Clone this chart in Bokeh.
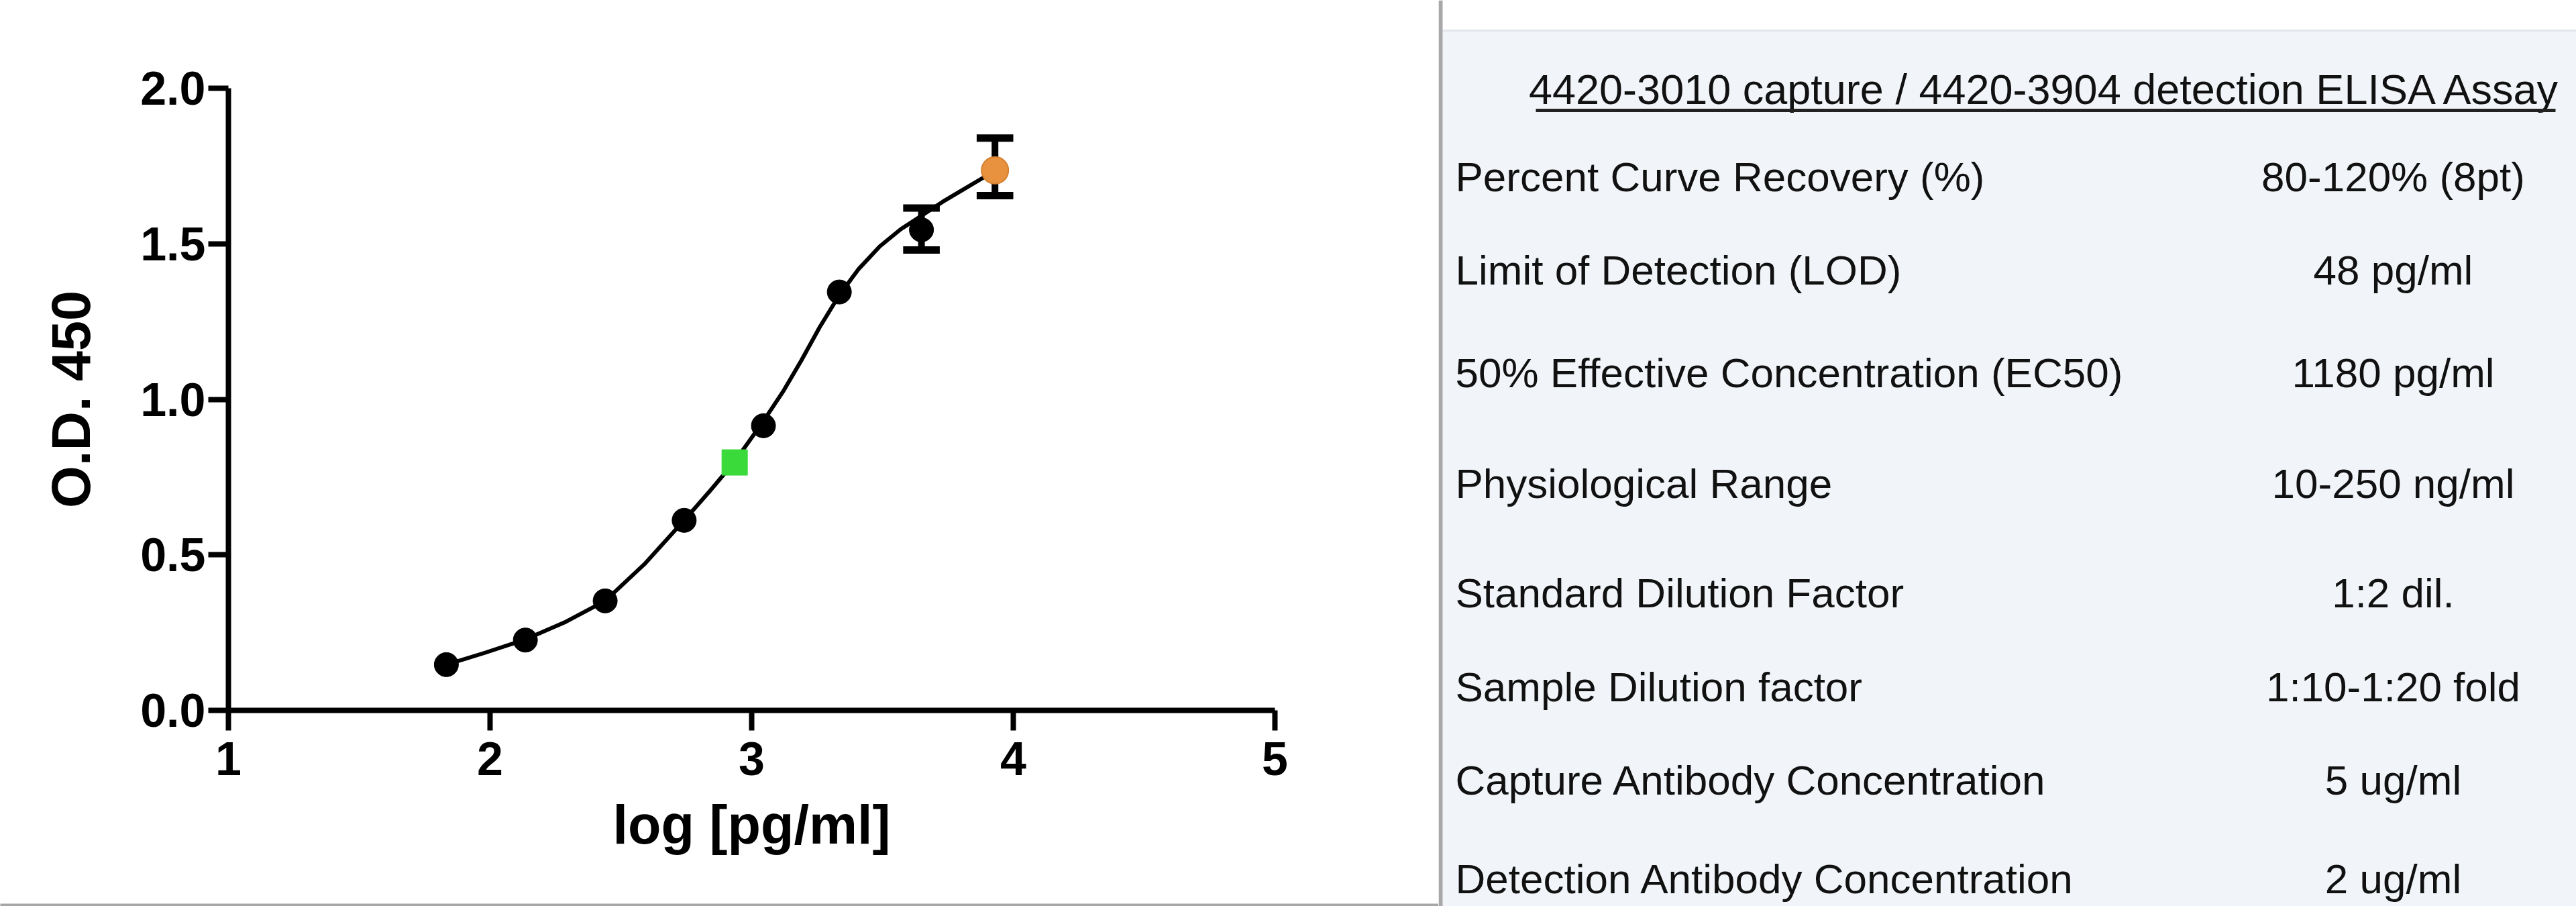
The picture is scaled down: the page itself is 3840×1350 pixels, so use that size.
from bokeh.plotting import figure
from bokeh.layouts import row, column
from bokeh.models import Range1d, FixedTicker, PrintfTickFormatter
from bokeh.core.properties import value
from bokeh.embed import file_html
from bokeh.resources import INLINE

# ---------------- data ----------------
std_logconc = [1.833, 2.135, 2.440, 2.742, 3.045, 3.335, 3.649]
std_od = [0.147, 0.226, 0.352, 0.611, 0.915, 1.345, 1.545]

top_logconc = [3.930]
top_od = [1.736]

sample_logconc = [2.935]
sample_od = [0.797]

err_logconc = [3.649, 3.930]
err_low = [1.480, 1.655]
err_high = [1.615, 1.840]

curve_logconc = [1.833, 1.98, 2.135, 2.29, 2.44, 2.59, 2.742, 2.84, 2.935, 3.045,
                 3.12, 3.19, 3.26, 3.335, 3.41, 3.49, 3.57, 3.649, 3.73, 3.81, 3.87, 3.93]
curve_od = [0.147, 0.185, 0.228, 0.285, 0.352, 0.47, 0.611, 0.705, 0.80, 0.93,
            1.025, 1.125, 1.232, 1.335, 1.42, 1.492, 1.547, 1.59, 1.635, 1.675, 1.705, 1.735]

x_ticks = [1, 2, 3, 4, 5]
y_ticks = [0.0, 0.5, 1.0, 1.5, 2.0]

table_title = "4420-3010 capture / 4420-3904 detection ELISA Assay"
table_labels = [
    "Percent Curve Recovery (%)",
    "Limit of Detection (LOD)",
    "50% Effective Concentration (EC50)",
    "Physiological Range",
    "Standard Dilution Factor",
    "Sample Dilution factor",
    "Capture Antibody Concentration",
    "Detection Antibody Concentration",
]
table_values = [
    "80-120% (8pt)",
    "48 pg/ml",
    "1180 pg/ml",
    "10-250 ng/ml",
    "1:2 dil.",
    "1:10-1:20 fold",
    "5 ug/ml",
    "2 ug/ml",
]

FONT = "Liberation Sans"

# ---------------- left: standard curve ----------------
p = figure(width=2144, height=1342, x_range=Range1d(1, 5), y_range=Range1d(0, 2),
           output_backend="svg", toolbar_location=None,
           min_border_left=340, min_border_right=244,
           min_border_top=131, min_border_bottom=284)
p.frame_align = False
p.outline_line_color = None
p.grid.visible = False
p.background_fill_color = "white"
p.border_fill_color = "white"

for ax in (p.xaxis[0], p.yaxis[0]):
    ax.axis_line_width = 8
    ax.axis_line_color = "black"
    ax.major_tick_line_width = 8
    ax.major_tick_line_color = "black"
    ax.major_tick_out = 30
    ax.major_tick_in = 0
    ax.minor_tick_line_color = None
    ax.major_label_text_font = FONT
    ax.major_label_text_font_style = "bold"
    ax.major_label_text_font_size = "70px"
    ax.major_label_text_color = "black"
    ax.axis_label_text_font = FONT
    ax.axis_label_text_font_style = "bold"
    ax.axis_label_text_font_size = "81px"
    ax.axis_label_text_color = "black"

p.xaxis.ticker = FixedTicker(ticks=x_ticks)
p.yaxis.ticker = FixedTicker(ticks=y_ticks)
p.yaxis.formatter = PrintfTickFormatter(format="%.1f")
p.xaxis.axis_label = "log [pg/ml]"
p.yaxis.axis_label = "O.D. 450"
p.xaxis.major_label_standoff = 17
p.yaxis.major_label_standoff = 4
p.xaxis.axis_label_standoff = 26
p.yaxis.axis_label_standoff = 55

# fitted curve
p.line(curve_logconc, curve_od, line_width=6, line_color="black", line_join="round")

# error bars
p.segment(x0=err_logconc, y0=err_low, x1=err_logconc, y1=err_high,
          line_width=10, line_color="black")
cap_half = 0.07
p.segment(x0=[x - cap_half for x in err_logconc], y0=err_high,
          x1=[x + cap_half for x in err_logconc], y1=err_high,
          line_width=11, line_color="black")
p.segment(x0=[x - cap_half for x in err_logconc], y0=err_low,
          x1=[x + cap_half for x in err_logconc], y1=err_low,
          line_width=11, line_color="black")

# points
p.scatter(std_logconc, std_od, marker="circle", size=36,
          fill_color="black", line_color="black")
p.scatter(sample_logconc, sample_od, marker="square", size=38,
          fill_color="#3BDA3B", line_color="#3BDA3B")
p.scatter(top_logconc, top_od, marker="circle", size=40,
          fill_color="#E8923F", line_color="#D4802F", line_width=2)

# thin grey strip under the chart panel
strip = figure(width=2144, height=8, x_range=Range1d(0, 1), y_range=Range1d(0, 1),
               output_backend="svg", toolbar_location=None, min_border=0,
               min_border_left=0, min_border_right=0, min_border_top=0, min_border_bottom=0)
strip.frame_align = False
strip.axis.visible = False
strip.grid.visible = False
strip.outline_line_color = None
strip.background_fill_color = "#A6A6A6"
strip.border_fill_color = "#A6A6A6"

# ---------------- right: assay table ----------------
t = figure(width=1696, height=1350, x_range=Range1d(2144, 3840), y_range=Range1d(1350, 0),
           output_backend="svg", toolbar_location=None,
           min_border=0, min_border_left=0, min_border_right=0,
           min_border_top=0, min_border_bottom=0)
t.frame_align = False
t.axis.visible = False
t.grid.visible = False
t.outline_line_color = None
t.background_fill_color = "white"
t.border_fill_color = "white"

# panel background and divider
t.quad(left=[2150], right=[3840], top=[45], bottom=[1350],
       fill_color="#F1F5F9", line_color=None)
t.segment(x0=[2150], y0=[45], x1=[3840], y1=[45], line_color="#E2E6EA", line_width=3)
t.quad(left=[2144], right=[2150], top=[0], bottom=[1350],
       fill_color="#A8A8A8", line_color=None)

# title
t.text(x=[3049], y=[132], text=[table_title], text_font=value(FONT),
       text_font_size=value("63px"), text_color="#111111",
       text_align="center", text_baseline="middle")
t.segment(x0=[2289], y0=[164], x1=[3809], y1=[164], line_color="#222222", line_width=5)

row_centers = [263, 402, 555, 720, 883, 1023, 1162, 1309]
t.text(x=[2169] * len(table_labels), y=row_centers, text=table_labels,
       text_font=value(FONT), text_font_size=value("62px"), text_color="#111111",
       text_align="left", text_baseline="middle")
t.text(x=[3567] * len(table_values), y=row_centers, text=table_values,
       text_font=value(FONT), text_font_size=value("62px"), text_color="#111111",
       text_align="center", text_baseline="middle")

layout = row(column(p, strip, spacing=0), t, spacing=0)
open("out.html", "w").write(file_html(layout, INLINE))
